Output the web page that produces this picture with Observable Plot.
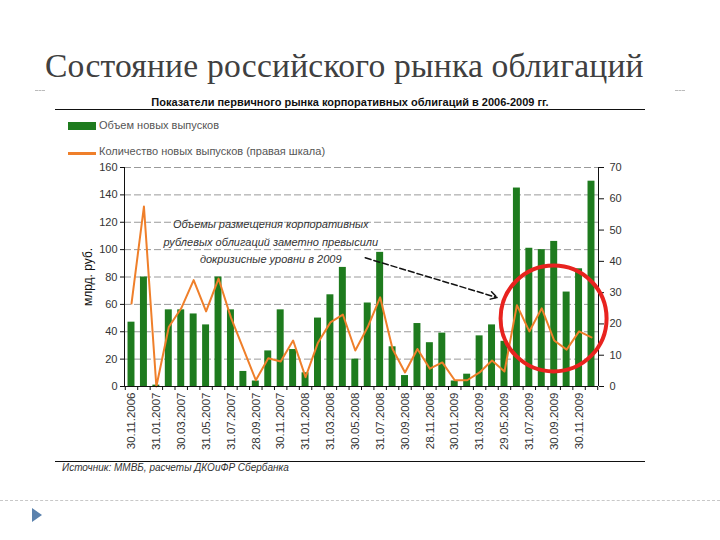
<!DOCTYPE html>
<html><head><meta charset="utf-8">
<script src="https://cdn.jsdelivr.net/npm/d3@7"></script>
<script src="https://cdn.jsdelivr.net/npm/@observablehq/plot@0.6"></script>
<style>
body{margin:0;background:#fff;width:720px;height:540px;position:relative;overflow:hidden;font-family:"Liberation Sans Narrow","Liberation Sans",Arial,sans-serif}
.abs{position:absolute;white-space:nowrap}
</style></head><body>
<div class="abs" style="left:45px;top:47px;font-family:'Liberation Serif','DejaVu Serif',serif;font-size:33.6px;color:#404040;letter-spacing:0.2px">Состояние российского рынка облигаций</div>
<div class="abs" style="left:35px;top:90px;width:10px;border-top:1px dashed #bbb"></div>
<div class="abs" style="left:675px;top:90px;width:10px;border-top:1px dashed #bbb"></div>
<div class="abs" style="left:55px;width:590px;top:96px;text-align:center;font-family:'Liberation Sans',Arial,sans-serif;font-weight:bold;font-size:11px;color:#111">Показатели первичного рынка корпоративных облигаций в 2006-2009 гг.</div>
<div class="abs" style="left:55px;top:109px;width:590px;border-top:1px solid #111"></div>
<div class="abs" style="left:68px;top:122px;width:28px;height:8px;background:#1e7b1e"></div>
<div class="abs" style="left:99px;top:119px;font-size:11px;color:#555">Объем новых выпусков</div>
<div class="abs" style="left:68px;top:152px;width:28px;height:3px;background:#ef7f2a"></div>
<div class="abs" style="left:99px;top:145px;font-size:11px;color:#555">Количество новых выпусков (правая шкала)</div>
<div id="chart" class="abs" style="left:0;top:155px"></div>
<div class="abs" style="left:55px;top:461px;width:590px;border-top:1px solid #111"></div>
<div class="abs" style="left:62px;top:462px;font-size:10px;font-style:italic;color:#333">Источник: ММВБ, расчеты ДКОиФР Сбербанка</div>
<div class="abs" style="left:0;top:500px;width:720px;border-top:1px dashed #c8c8c8"></div>
<div class="abs" style="left:32px;top:508px;width:0;height:0;border-top:7px solid transparent;border-bottom:7px solid transparent;border-left:10px solid #5b82ad"></div>
<script>
const months = ["11.2006","12.2006","01.2007","02.2007","03.2007","04.2007","05.2007","06.2007","07.2007","08.2007","09.2007","10.2007","11.2007","12.2007","01.2008","02.2008","03.2008","04.2008","05.2008","06.2008","07.2008","08.2008","09.2008","10.2008","11.2008","12.2008","01.2009","02.2009","03.2009","04.2009","05.2009","06.2009","07.2009","08.2009","09.2009","10.2009","11.2009","12.2009"];
const volume = [47,80,1,56,56,53,45,80,56,11,4,26,56,27,10,50,67,87,20,61,98,29,8,46,32,39,4,9,37,45,33,145,101,100,106,69,86,150];
const issues = [26.5,57.5,0,19,25,34,24,34.5,22,12,2,9,8,14.7,3,14,20.5,23,11.5,19,28.5,12,4.5,12,5.7,7.7,2,2,4.5,8.3,4.8,26,17.6,25,14.7,11.8,17.6,15.7];
const tickLabels = ["30.11.2006","31.01.2007","30.03.2007","31.05.2007","31.07.2007","28.09.2007","30.11.2007","31.01.2008","31.03.2008","30.05.2008","31.07.2008","30.09.2008","28.11.2008","30.01.2009","31.03.2009","29.05.2009","31.07.2009","30.09.2009","30.11.2009"];
const leftTicks = [0,20,40,60,80,100,120,140,160];
const rightTicks = [0,10,20,30,40,50,60,70];
const noteText = ["Объемы размещения корпоративных\nрублевых облигаций заметно превысили\nдокризисные уровни в 2009"];
const note = [{k:11.2, v:107, text:noteText[0]}];
const arrowSpec = [{k1:18.8, v1:94, k2:29.4, v2:65}];
const circleSpec = [{k:33.95, v:49.7}];

const R = 160/70;
const data = months.map((m,i)=>({k:i, m, vol:volume[i], cnt:issues[i]}));
const font = "'Liberation Sans Narrow','Liberation Sans',Arial,sans-serif";
const chart = Plot.plot({
  width:720, height:300,
  marginTop:12, marginBottom:69, marginLeft:124, marginRight:122,
  style:{fontFamily:font, fontSize:"11px", color:"#333", background:"transparent", overflow:"visible"},
  x:{type:"linear", domain:[-0.563, 37.563]},
  y:{domain:[0,160]},
  marks:[
    Plot.gridY(leftTicks.filter(t=>t>0), {stroke:"#9a9a9a", strokeOpacity:1, strokeDasharray:"7,3"}),
    Plot.rectY(data, {x1:d=>d.k-0.28, x2:d=>d.k+0.28, y:"vol", fill:"#1e7b1e"}),
    Plot.lineY(data, {x:"k", y:d=>d.cnt*R, stroke:"#ef7f2a", strokeWidth:2}),
    Plot.ruleX([-0.563], {stroke:"#111"}),
    Plot.ruleX([37.563], {stroke:"#111"}),
    Plot.ruleY([0], {stroke:"#111"}),
    Plot.axisY(leftTicks, {anchor:"left", tickSize:4, tickPadding:3, label:null, stroke:"#111"}),
    Plot.axisY(rightTicks.map(t=>t*R), {anchor:"right", tickFormat:v=>Math.round(v/R), tickSize:5, tickPadding:6, label:null, stroke:"#111"}),
    Plot.axisX(d3.range(0,38,2), {anchor:"bottom", tickFormat:k=>tickLabels[k/2], tickRotate:-90, tickSize:0, tickPadding:6, label:null, fontSize:11.5}),
    Plot.axisX(d3.range(-0.5,38,1), {anchor:"bottom", tickFormat:()=>"", tickSize:4, label:null, stroke:"#111"}),
    Plot.text(["млрд. руб."], {frameAnchor:"left", rotate:-90, dx:-36, textAnchor:"middle", fontSize:12, fill:"#111"}),
    Plot.text(note, {x:"k", y:"v", text:"text", fontStyle:"italic", fontSize:11, lineHeight:1.55, textAnchor:"middle", fill:"#333"}),
    Plot.arrow(arrowSpec, {x1:"k1", y1:"v1", x2:"k2", y2:"v2", stroke:"#111", strokeWidth:1.5, strokeDasharray:"6,3", headLength:8}),
    Plot.dot(circleSpec, {x:"k", y:"v", r:53, stroke:"#e8231f", strokeWidth:4, fill:"none"})
  ]
});
document.getElementById("chart").appendChild(chart);
</script>
</body></html>
